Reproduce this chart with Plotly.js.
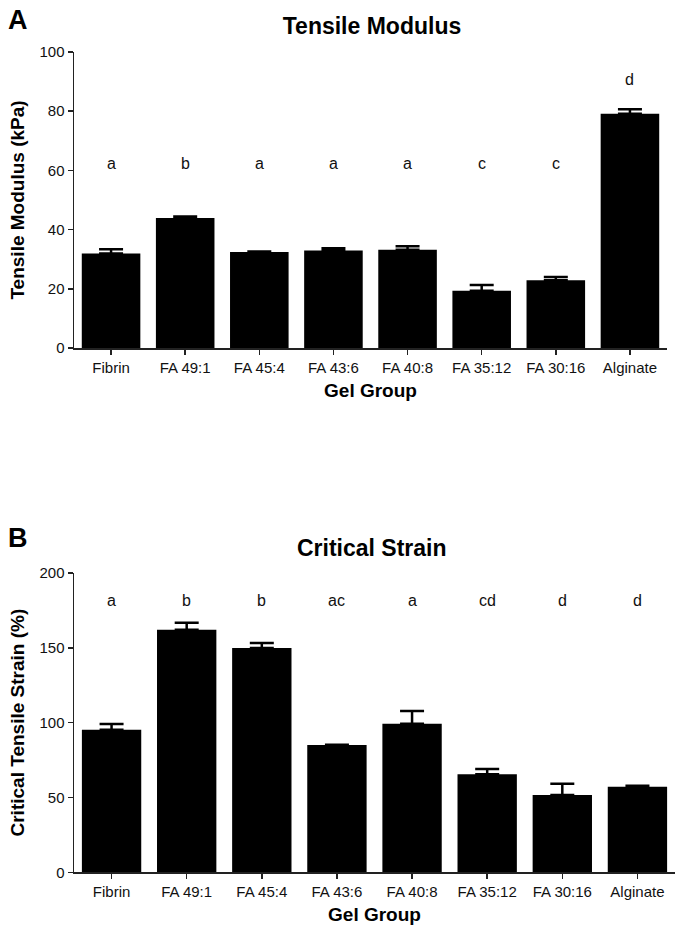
<!DOCTYPE html>
<html>
<head>
<meta charset="utf-8">
<script src="https://cdn.plot.ly/plotly-3.0.1.min.js"></script>
<style>html,body{margin:0;padding:0;background:#fff}#chart{width:685px;height:935px}</style>
</head>
<body>
<div id="chart"></div>
<script>
const groups = ["Fibrin", "FA 49:1", "FA 45:4", "FA 43:6", "FA 40:8", "FA 35:12", "FA 30:16", "Alginate"];
const modulusMean = [31.9, 43.9, 32.4, 32.9, 33.2, 19.3, 22.9, 79.1];
const modulusErr = [1.5, 0.5, 0.2, 0.8, 1.2, 2.0, 1.1, 1.6];
const modulusLetters = ["a", "b", "a", "a", "a", "c", "c", "d"];
const strainMean = [95.3, 162.1, 149.8, 85.0, 99.3, 65.5, 51.6, 57.2];
const strainErr = [3.8, 4.6, 3.4, 0.3, 8.5, 3.5, 7.6, 0.7];
const strainLetters = ["a", "b", "b", "ac", "a", "cd", "d", "d"];

const FONT = "Liberation Sans, Arial, sans-serif";
const zeros = groups.map(() => 0);

function barTrace(y, err, xa, ya) {
  return {
    type: "bar", x: groups, y: y, xaxis: xa, yaxis: ya,
    marker: {color: "#000000", line: {color: "#000000", width: 0}},
    error_y: {type: "data", symmetric: false, array: err, arrayminus: zeros,
              color: "#000000", thickness: 2.5, width: 12},
    showlegend: false, hoverinfo: "x+y"
  };
}

const data = [
  barTrace(modulusMean, modulusErr, "x", "y"),
  barTrace(strainMean, strainErr, "x2", "y2")
];

const annotations = [];
groups.forEach((g, i) => {
  annotations.push({x: g, y: Math.max(62.5, modulusMean[i] + modulusErr[i] + 10),
    xref: "x", yref: "y", text: modulusLetters[i], showarrow: false,
    xanchor: "center", yanchor: "middle",
    font: {family: FONT, size: 16, color: "#111"}});
  annotations.push({x: g, y: 181.5, xref: "x2", yref: "y2", text: strainLetters[i],
    showarrow: false, xanchor: "center", yanchor: "middle",
    font: {family: FONT, size: 16, color: "#111"}});
});
annotations.push({x: 18/685, y: 1 - 19.5/935, xref: "paper", yref: "paper", text: "<b>A</b>",
  showarrow: false, xanchor: "center", yanchor: "middle", font: {family: FONT, size: 27, color: "#000"}});
annotations.push({x: 18/685, y: 1 - 538/935, xref: "paper", yref: "paper", text: "<b>B</b>",
  showarrow: false, xanchor: "center", yanchor: "middle", font: {family: FONT, size: 27, color: "#000"}});
annotations.push({x: 372/685, y: 1 - 548/935, xref: "paper", yref: "paper", text: "<b>Critical Strain</b>",
  showarrow: false, xanchor: "center", yanchor: "middle", font: {family: FONT, size: 23, color: "#000"}});

function xAxis(domain, anchor) {
  return {
    domain: domain, anchor: anchor, type: "category",
    showline: true, linecolor: "#222", linewidth: 1.5, mirror: false,
    ticks: "outside", ticklen: 5, tickwidth: 1.5, tickcolor: "#222",
    showgrid: false, zeroline: false,
    tickfont: {family: FONT, size: 15, color: "#111"},
    title: {text: "<b>Gel Group</b>", font: {family: FONT, size: 19, color: "#000"}, standoff: 9},
    automargin: false
  };
}
function yAxis(domain, anchor, range, dtick, title) {
  return {
    domain: domain, anchor: anchor, range: range, dtick: dtick,
    showline: true, linecolor: "#222", linewidth: 1.5,
    ticks: "outside", ticklen: 5, tickwidth: 1.5, tickcolor: "#222",
    showgrid: false, zeroline: false,
    tickfont: {family: FONT, size: 15, color: "#111"},
    title: {text: "<b>" + title + "</b>", font: {family: FONT, size: 19, color: "#000"}, standoff: 10},
    automargin: false
  };
}

const layout = {
  width: 685, height: 935,
  margin: {l: 0, r: 0, t: 0, b: 0},
  paper_bgcolor: "#fff", plot_bgcolor: "#fff",
  bargap: 0.21,
  title: {text: "<b>Tensile Modulus</b>", x: 372/685, xanchor: "center",
          y: 1 - 26/935, yanchor: "middle", yref: "container",
          font: {family: FONT, size: 23, color: "#000"}},
  xaxis: xAxis([74/685, 667/685], "y"),
  yaxis: yAxis([587/935, 883/935], "x", [0, 100], 20, "Tensile Modulus (kPa)"),
  xaxis2: xAxis([74/685, 675/685], "y2"),
  yaxis2: yAxis([62.7/935, 362/935], "x2", [0, 200], 50, "Critical Tensile Strain (%)"),
  annotations: annotations,
  showlegend: false
};

Plotly.newPlot("chart", data, layout, {displayModeBar: false, staticPlot: true});
</script>
</body>
</html>
